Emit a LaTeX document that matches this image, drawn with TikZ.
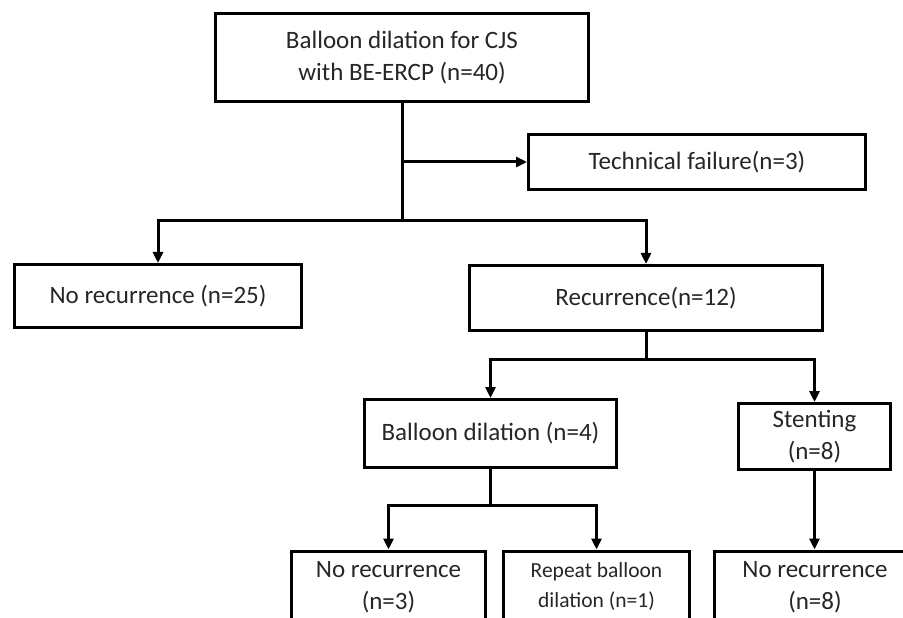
\documentclass[tikz,border=0pt]{standalone}
\usepackage{fontspec}
\setmainfont{Carlito}
\usetikzlibrary{arrows.meta}
\begin{document}
\begin{tikzpicture}[x=1bp,y=-1bp,
  box/.style={draw=black, line width=3bp, rectangle, inner sep=0pt, align=center,
    font=\fontsize{25bp}{32bp}\selectfont, text=black!85},
  ln/.style={line width=3bp, draw=black},
  arr/.style={ln, -{Triangle[length=11bp,width=10bp]}}]
\useasboundingbox (0,0) rectangle (903,618);
\clip (0,0) rectangle (903,618);
\fill[white] (0,0) rectangle (903,618);

\node[box, minimum width=373bp, minimum height=88bp] (top) at (402,57.5)
  {Balloon dilation for CJS\\with BE-ERCP (n=40)};
\node[box, minimum width=337bp, minimum height=55bp] (tech) at (697,162)
  {Technical failure(n=3)};
\node[box, minimum width=287bp, minimum height=63bp] (nr25) at (158,296)
  {No recurrence (n=25)};
\node[box, minimum width=353bp, minimum height=65bp] (rec) at (646,298)
  {Recurrence(n=12)};
\node[box, minimum width=252bp, minimum height=68bp] (bd) at (490.5,433.5)
  {Balloon dilation (n=4)};
\node[box, minimum width=152bp, minimum height=66bp] (st) at (814.5,436.5)
  {Stenting\\(n=8)};
\node[box, minimum width=194bp, minimum height=72bp] (nr3) at (388.5,587)
  {No recurrence\\(n=3)};
\node[box, minimum width=186bp, minimum height=72bp,
  font=\fontsize{21.5bp}{30bp}\selectfont] (rep) at (596.5,587)
  {Repeat balloon\\dilation (n=1)};
\node[box, minimum width=201bp, minimum height=72bp] (nr8) at (815,587)
  {No recurrence\\(n=8)};

\coordinate (h1) at (0,221);
\coordinate (h2) at (0,359);
\coordinate (h3) at (0,505);

\draw[ln] (top.south) -- (top.south |- h1);
\draw[arr] (top.south |- tech.west) -- (tech.west);
\draw[arr] (top.south |- h1) -| (nr25.north);
\draw[arr] (top.south |- h1) -| (rec.north);

\draw[ln] (rec.south) -- (rec.south |- h2);
\draw[arr] (rec.south |- h2) -| (bd.north);
\draw[arr] (rec.south |- h2) -| (st.north);

\draw[ln] (bd.south) -- (bd.south |- h3);
\draw[arr] (bd.south |- h3) -| (nr3.north);
\draw[arr] (bd.south |- h3) -| (rep.north);

\draw[arr] (st.south) -- (st.south |- nr8.north);
\end{tikzpicture}
\end{document}
